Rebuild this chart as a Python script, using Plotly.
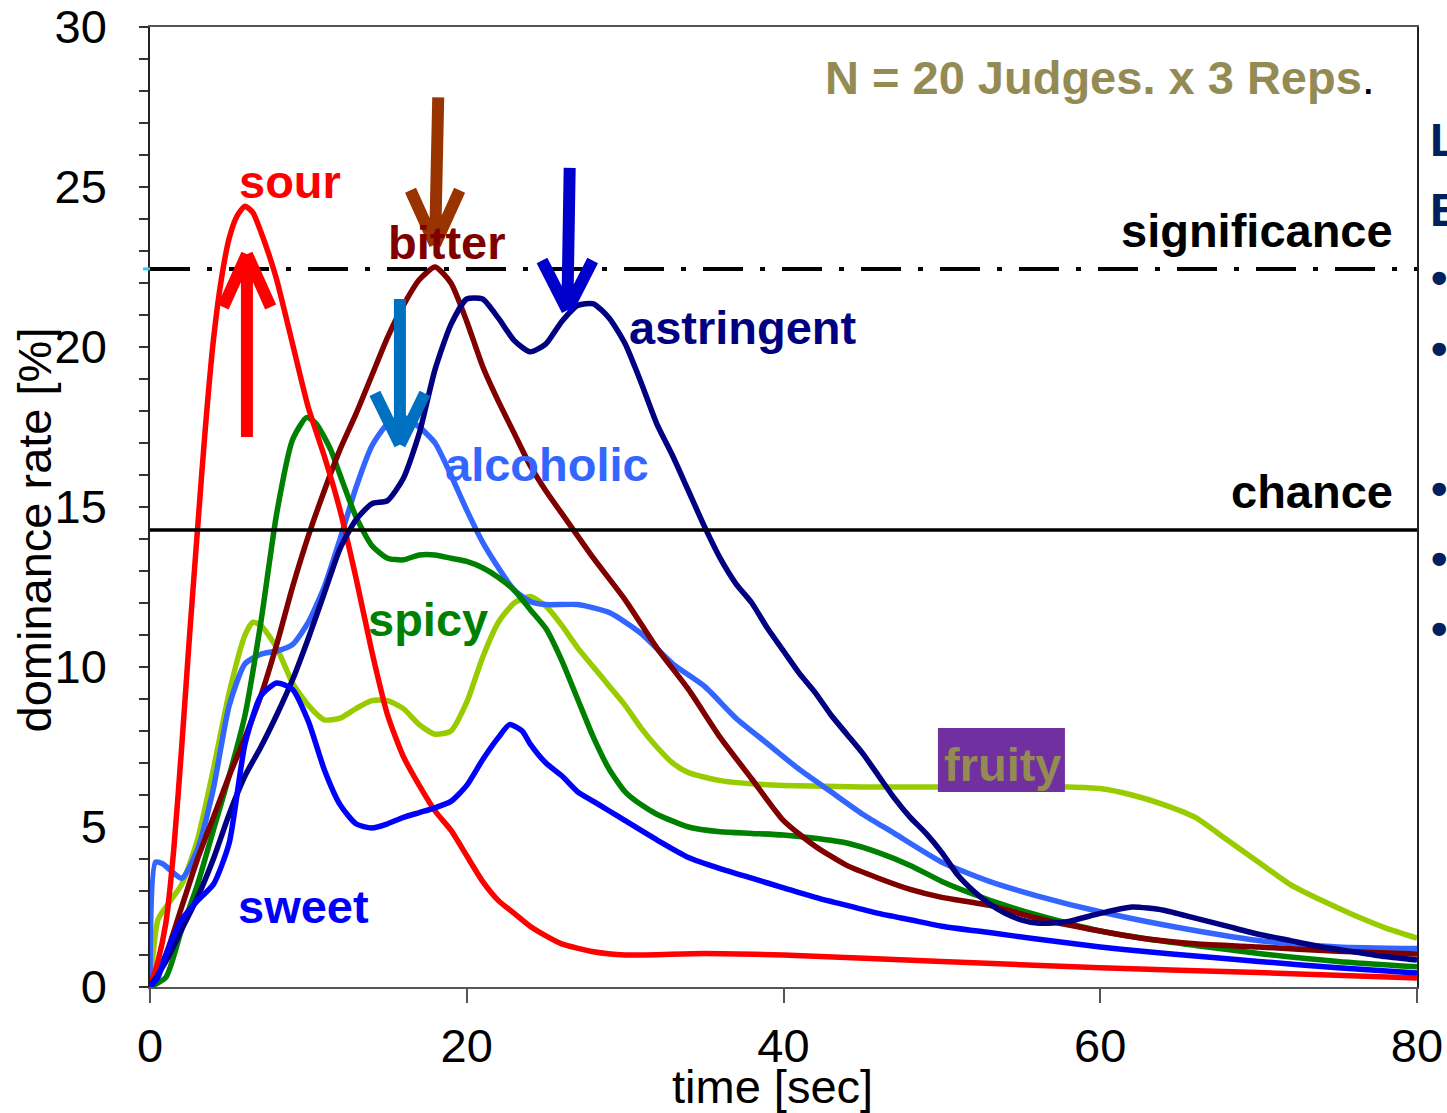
import plotly.graph_objects as go

# ---------------- data ----------------
t_sour = [0, 0.5, 1, 1.5, 2, 2.5, 3, 3.5, 4, 4.5, 5, 5.5, 6, 6.5, 7, 7.5, 8, 9, 10, 11, 12, 13, 14, 15, 16, 17, 18, 19, 20, 21, 22, 23, 24, 25, 26, 28, 30, 35, 40, 50, 60, 70, 80]
v_sour = [0, 0.8, 2.0, 4.3, 7.5, 11.0, 14.3, 17.5, 20.2, 22.1, 23.4, 24.1, 24.4, 24.2, 23.6, 22.9, 22.1, 20.1, 18.1, 16.6, 14.9, 12.8, 10.5, 8.5, 7.2, 6.3, 5.5, 4.9, 4.1, 3.3, 2.7, 2.3, 1.9, 1.6, 1.35, 1.1, 1.0, 1.05, 1.0, 0.8, 0.6, 0.45, 0.28]

t_bitter = [0, 1, 2, 3, 4, 5, 6, 7, 8, 9, 10, 11, 12, 13, 14, 15, 16, 17, 18, 19, 20, 21, 22, 23, 24, 25, 26, 27, 28, 30, 32, 34, 36, 38, 40, 42, 44, 46, 48, 50, 53, 56, 60, 63, 66, 70, 75, 80]
v_bitter = [0, 1.0, 2.5, 4.0, 5.3, 6.6, 7.8, 9.1, 10.7, 12.5, 14.1, 15.5, 16.8, 17.9, 19.1, 20.3, 21.3, 22.1, 22.5, 22.0, 20.8, 19.4, 18.3, 17.3, 16.3, 15.5, 14.8, 14.1, 13.4, 12.1, 10.6, 9.3, 7.8, 6.5, 5.2, 4.4, 3.8, 3.4, 3.05, 2.8, 2.55, 2.15, 1.75, 1.5, 1.35, 1.25, 1.12, 1.03]

t_astr = [0, 1, 2, 3, 4, 5, 6, 7, 8, 9, 10, 11, 12, 13, 14, 15, 16, 17, 18, 19, 20, 21, 22, 23, 24, 25, 26, 27, 28, 29, 30, 31, 32, 33, 34, 35, 36, 37, 38, 39, 40, 41, 42, 43, 44, 45, 46, 47, 48, 49, 50, 51, 52, 53, 54, 55, 56, 57, 58, 60, 62, 64, 66, 68, 70, 72, 74, 76, 78, 80]
v_astr = [0, 0.8, 1.8, 2.8, 4.0, 5.4, 6.6, 7.5, 8.5, 9.6, 10.9, 12.3, 13.7, 14.6, 15.1, 15.2, 15.9, 17.3, 19.3, 20.7, 21.5, 21.5, 20.9, 20.2, 19.85, 20.1, 20.8, 21.3, 21.35, 20.9, 20.1, 18.9, 17.6, 16.6, 15.5, 14.4, 13.4, 12.6, 12.0, 11.2, 10.5, 9.8, 9.2, 8.5, 7.9, 7.3, 6.6, 5.9, 5.3, 4.8, 4.2, 3.5, 3.0, 2.6, 2.3, 2.1, 2.0, 2.0, 2.05, 2.3, 2.5, 2.4, 2.15, 1.9, 1.65, 1.45, 1.25, 1.1, 0.95, 0.84]

t_alc = [0, 0.35, 0.8, 2, 3, 4, 5, 6, 7, 8, 9, 10, 11, 12, 13, 14, 15, 16, 17, 18, 19, 20, 21, 22, 23, 24, 25, 27, 29, 31, 33, 35, 37, 39, 41, 43, 45, 47, 50, 53, 56, 60, 65, 70, 75, 80]
v_alc = [0, 3.9, 3.85, 3.4, 4.3, 6.2, 8.8, 10.1, 10.4, 10.5, 10.7, 11.4, 12.5, 14.0, 15.6, 16.9, 17.6, 17.8, 17.5, 17.0, 16.0, 14.9, 13.9, 13.1, 12.4, 12.05, 11.95, 11.95, 11.7, 11.05, 10.1, 9.4, 8.4, 7.6, 6.8, 6.1, 5.4, 4.8, 3.9, 3.3, 2.85, 2.35, 1.85, 1.45, 1.25, 1.2]

t_spicy = [0, 1, 2, 3, 4, 5, 6, 7, 8, 9, 9.9, 10.5, 11.4, 12, 13, 14, 15, 16, 17, 18, 19, 20, 21, 22, 23, 24, 25, 26, 27, 28, 29, 30, 31, 32, 34, 36, 38, 40, 42, 44, 46, 48, 50, 52, 54, 56, 60, 63, 66, 70, 75, 80]
v_spicy = [0, 0.3, 1.8, 3.2, 4.9, 6.6, 8.5, 11.4, 14.8, 17.1, 17.8, 17.6, 16.8, 16.0, 14.7, 13.8, 13.4, 13.35, 13.5, 13.5, 13.4, 13.3, 13.1, 12.8, 12.4, 11.8, 11.2, 10.2, 9.0, 7.8, 6.8, 6.1, 5.7, 5.4, 5.0, 4.85, 4.8, 4.75, 4.65, 4.5, 4.2, 3.8, 3.3, 2.9, 2.55, 2.25, 1.75, 1.5, 1.3, 1.05, 0.8, 0.63]

t_sweet = [0, 0.5, 1, 2, 3, 4, 5, 6, 7, 8, 9, 10, 11, 12, 13, 14, 15, 16, 17, 18, 19, 20, 21, 22, 22.7, 23.5, 24, 25, 26, 27, 28, 29, 30, 32, 34, 36, 38, 40, 42, 44, 46, 48, 50, 53, 56, 60, 63, 66, 70, 75, 80]
v_sweet = [0, 0.3, 1.0, 2.1, 2.7, 3.2, 4.5, 7.6, 9.1, 9.5, 9.3, 8.3, 6.8, 5.7, 5.1, 4.97, 5.1, 5.3, 5.45, 5.6, 5.8, 6.3, 7.1, 7.8, 8.2, 8.0, 7.6, 7.0, 6.6, 6.1, 5.8, 5.5, 5.2, 4.6, 4.05, 3.7, 3.4, 3.1, 2.8, 2.55, 2.3, 2.1, 1.9, 1.7, 1.5, 1.25, 1.1, 0.97, 0.8, 0.6, 0.44]

t_fruity = [0, 0.5, 1, 2, 3, 4, 5, 6, 6.5, 7, 8, 9, 10, 11, 12, 13, 14, 15, 16, 17, 18, 19, 20, 21, 22, 23, 24, 25, 26, 27, 28, 29, 30, 31, 32, 33, 34, 36, 38, 40, 45, 50, 55, 58, 60, 62, 64, 66, 68, 70, 72, 74, 76, 78, 80]
v_fruity = [0, 2.1, 2.5, 3.2, 4.6, 6.8, 9.2, 11.0, 11.4, 11.3, 10.6, 9.5, 8.8, 8.35, 8.4, 8.7, 8.95, 8.95, 8.7, 8.2, 7.9, 8.0, 8.9, 10.3, 11.4, 12.0, 12.2, 11.9, 11.3, 10.6, 10.0, 9.4, 8.8, 8.1, 7.5, 7.0, 6.7, 6.45, 6.35, 6.3, 6.25, 6.25, 6.25, 6.25, 6.2, 6.0, 5.7, 5.3, 4.6, 3.9, 3.2, 2.7, 2.25, 1.85, 1.53]

significance_level = 22.44
chance_level = 14.28

y_tick_vals = list(range(0, 31))
y_tick_text = [str(v) if v % 5 == 0 else "" for v in y_tick_vals]
x_tick_vals = [0, 20, 40, 60, 80]

# ---------------- figure ----------------
FONT = "Liberation Sans, Arial, sans-serif"
FS = 47

series = [
    ("fruity", t_fruity, v_fruity, "#99CC00"),
    ("alcoholic", t_alc, v_alc, "#3366FF"),
    ("spicy", t_spicy, v_spicy, "#008000"),
    ("bitter", t_bitter, v_bitter, "#800000"),
    ("sour", t_sour, v_sour, "#FF0000"),
    ("astringent", t_astr, v_astr, "#000080"),
    ("sweet", t_sweet, v_sweet, "#0000FF"),
]

fig = go.Figure()
for name, xs, ys, col in series:
    fig.add_trace(go.Scatter(x=xs, y=ys, mode="lines", name=name,
                             line=dict(color=col, width=5.5, shape="spline", smoothing=0.6),
                             showlegend=False, hoverinfo="skip"))

shapes = []
# significance & chance lines
shapes.append(dict(type="line", xref="x", yref="y", x0=0, x1=80, y0=significance_level, y1=significance_level,
                   line=dict(color="black", width=4, dash="40px,17px,5px,17px"), layer="above"))
shapes.append(dict(type="line", xref="paper", yref="y", x0=-0.0055, x1=0, y0=significance_level, y1=significance_level,
                   line=dict(color="#33CCFF", width=3), layer="above"))
shapes.append(dict(type="line", xref="x", yref="y", x0=0, x1=80, y0=chance_level, y1=chance_level,
                   line=dict(color="black", width=3.5), layer="above"))

# arrows (shaft from tail to tip, chevron head)
def arrow(x_tail, y_tail, x_tip, y_tip, half_w, wing_dy, color):
    path = (f"M {x_tail},{y_tail} L {x_tip},{y_tip} "
            f"M {x_tip - half_w},{y_tip + wing_dy} L {x_tip},{y_tip} "
            f"M {x_tip + half_w},{y_tip + wing_dy} L {x_tip},{y_tip}")
    return dict(type="path", xref="x", yref="y", path=path,
                line=dict(color=color, width=12), layer="above")

shapes.append(arrow(6.12, 17.19, 6.12, 22.9, 1.5, -1.65, "#FF0000"))
shapes.append(arrow(18.2, 27.8, 18.0, 23.2, 1.55, 1.7, "#993300"))
shapes.append(arrow(26.5, 25.6, 26.35, 21.15, 1.6, 1.55, "#0000CC"))
shapes.append(arrow(15.78, 21.5, 15.78, 16.95, 1.58, 1.6, "#0070C0"))

# fruity box
shapes.append(dict(type="rect", xref="x", yref="y", x0=49.75, x1=57.77, y0=6.09, y1=8.09,
                   fillcolor="#7030A0", line=dict(width=0), layer="above"))

annotations = []
def label(text, x, y, color, xanchor="center", size=FS):
    annotations.append(dict(text=text, x=x, y=y, xref="x", yref="y", showarrow=False,
                            xanchor=xanchor, yanchor="middle",
                            font=dict(family=FONT, size=size, color=color)))

label("<b>sour</b>", 8.84, 25.17, "#FF0000")
label("<b>bitter</b>", 18.78, 23.27, "#800000")
label("<b>significance</b>", 78.6, 23.64, "#000000", xanchor="right")
label("<b>chance</b>", 78.6, 15.48, "#000000", xanchor="right")
label("<b>astringent</b>", 37.44, 20.61, "#000080")
label("<b>alcoholic</b>", 25.06, 16.33, "#3366FF")
label("<b>spicy</b>", 17.55, 11.48, "#008000")
label("<b>sweet</b>", 9.72, 2.52, "#0000FF")
label("<b>fruity</b>", 53.85, 6.95, "#948A54")
label("<b>N = 20 Judges. x 3 Reps</b><span style='color:black'>.</span>", 77.46, 28.42, "#948A54", xanchor="right")

# axis titles
annotations.append(dict(text="dominance rate [%]", xref="paper", yref="paper", x=-0.0912, y=0.476,
                        textangle=-90, showarrow=False, xanchor="center", yanchor="middle",
                        font=dict(family=FONT, size=FS, color="black")))
annotations.append(dict(text="time [sec]", xref="paper", yref="paper", x=0.4917, y=-0.1036,
                        showarrow=False, xanchor="center", yanchor="middle",
                        font=dict(family=FONT, size=FS, color="black")))

# cut-off slide text on the right (partially outside the page, as in the reference)
for txt, py in [("<b>L</b>", 139), ("<b>E</b>", 209)]:
    annotations.append(dict(text=txt, xref="paper", yref="paper", x=(1428 - 150) / 1267, y=(987 - py) / 960,
                            showarrow=False, xanchor="left", yanchor="middle",
                            font=dict(family=FONT, size=FS, color="#002060")))
for py in [277, 348, 488, 558, 628]:
    annotations.append(dict(text="<b>•</b>", xref="paper", yref="paper", x=(1429 - 150) / 1267, y=(987 - py) / 960,
                            showarrow=False, xanchor="left", yanchor="middle",
                            font=dict(family=FONT, size=FS, color="#002060")))

fig.update_layout(
    width=1447, height=1113,
    margin=dict(l=150, r=30, t=27, b=126, pad=0, autoexpand=False),
    paper_bgcolor="white", plot_bgcolor="white",
    shapes=shapes, annotations=annotations,
    font=dict(family=FONT, size=FS, color="black"),
)
fig.update_xaxes(range=[0, 80], tickvals=x_tick_vals, ticks="outside", ticklen=14, tickwidth=2,
                 tickcolor="#555555", showgrid=False, zeroline=False, showline=True,
                 linecolor="#555555", linewidth=2, mirror=True, automargin=False,
                 tickfont=dict(family=FONT, size=FS, color="black"), ticklabelstandoff=3)
fig.update_yaxes(range=[0, 30], tickvals=y_tick_vals, ticktext=y_tick_text, ticks="outside", ticklen=9,
                 tickwidth=1.5, tickcolor="#333333", showgrid=False, zeroline=False, showline=True,
                 linecolor="#222222", linewidth=1.5, mirror=True, automargin=False,
                 tickfont=dict(family=FONT, size=FS, color="black"), ticklabelstandoff=23)

fig.write_html("out.html")
